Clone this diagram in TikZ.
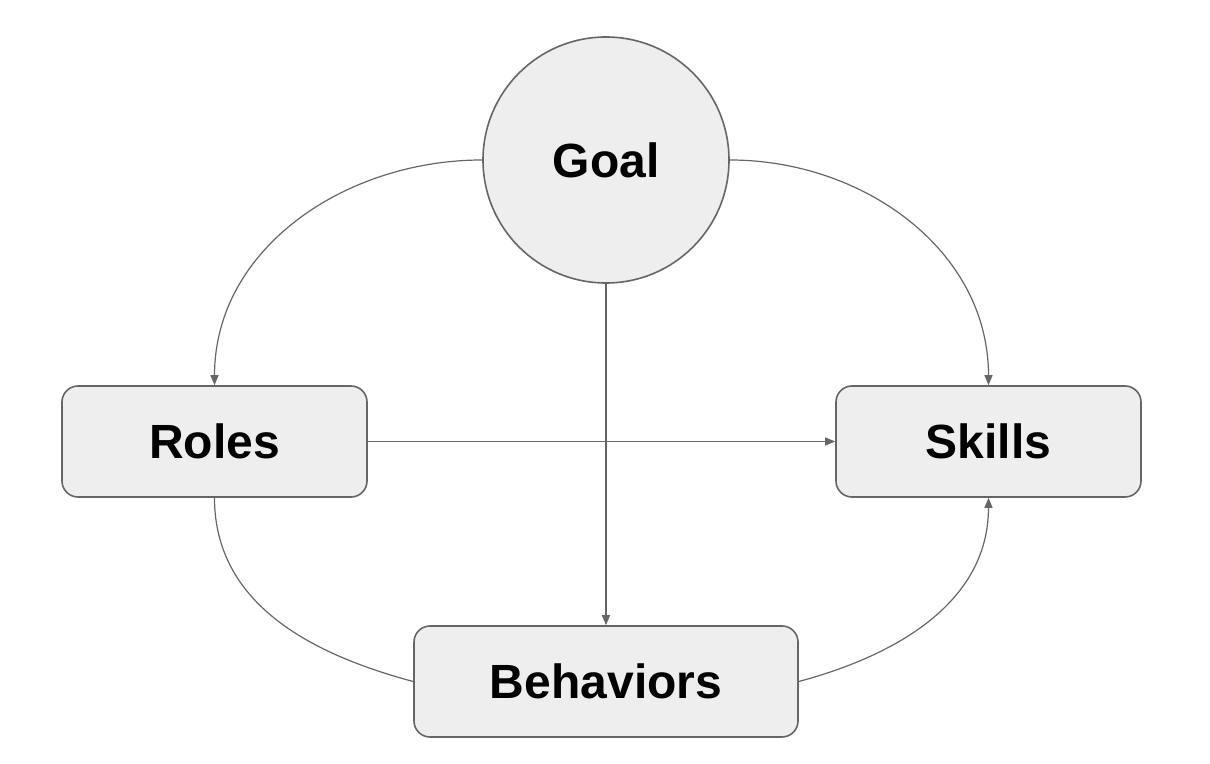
\documentclass[tikz,border=0pt]{standalone}
\usepackage{fontspec}
\setmainfont{Liberation Sans}
\usetikzlibrary{arrows.meta}
\definecolor{fillg}{HTML}{EEEEEE}
\definecolor{lineg}{HTML}{666666}
\begin{document}
\begin{tikzpicture}[x=0.5pt,y=-0.5pt,
  box/.style={draw=lineg,fill=fillg,line width=0.8pt,rounded corners=8pt,minimum width=152.5pt,minimum height=55.5pt,font=\fontsize{24}{28}\selectfont\bfseries},
  conn/.style={draw=lineg,line width=0.6pt},
  arr/.style={conn,-{Triangle[length=5pt,width=4pt]}}]
\useasboundingbox (0,0) rectangle (1210,764);
\node[circle,draw=lineg,fill=fillg,line width=0.8pt,minimum size=123pt,inner sep=0,font=\fontsize{24}{28}\selectfont\bfseries] (goal) at (606,160) {Goal};
\node[box] (roles) at (214.5,441.5) {Roles};
\node[box] (skills) at (988.5,441.5) {Skills};
\node[box,minimum width=192pt] (beh) at (606,681.5) {Behaviors};
\draw[arr] (goal.180) to[out=180,in=90] (roles.north);
\draw[arr] (goal.0) to[out=0,in=90] (skills.north);
\draw[arr] (goal.south) -- (beh.north);
\draw[arr] (roles.east) -- (skills.west);
\draw[conn] (roles.south) to[out=-90,in=165] (beh.west);
\draw[arr] (beh.east) to[out=15,in=-90] (skills.south);
\end{tikzpicture}
\end{document}
